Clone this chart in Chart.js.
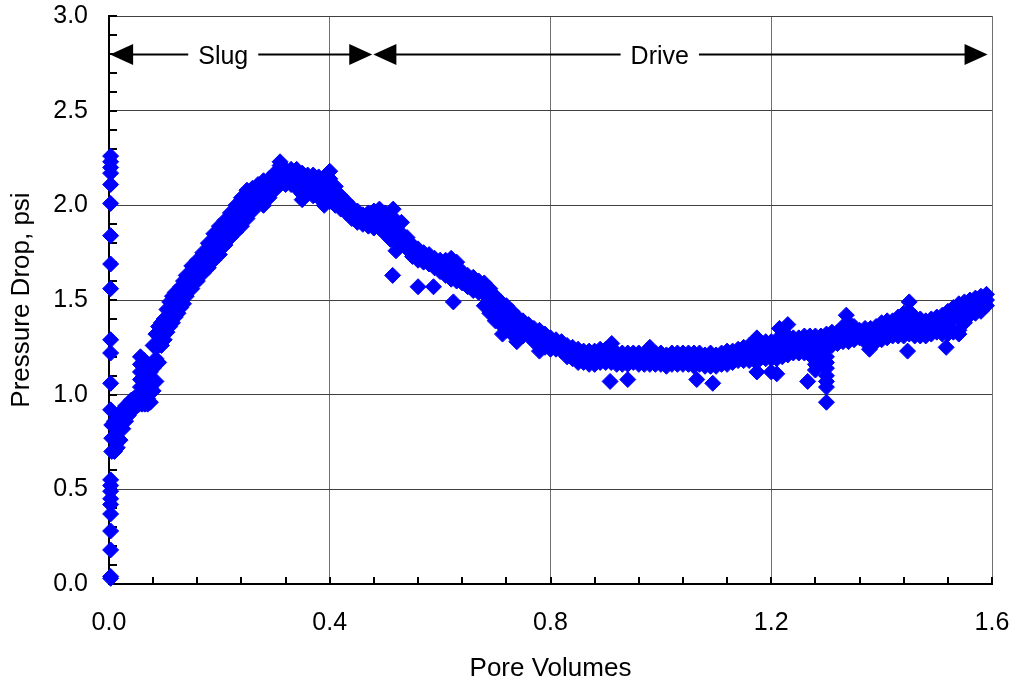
<!DOCTYPE html>
<html>
<head>
<meta charset="utf-8">
<title>Pressure Drop vs Pore Volumes</title>
<script src="https://cdn.jsdelivr.net/npm/chart.js@4.4.0/dist/chart.umd.min.js"></script>
<style>
  html, body { margin: 0; padding: 0; background: #fff; }
  #wrap { width: 1016px; height: 686px; }
</style>
</head>
<body>
<div id="wrap"><canvas id="dp-chart" width="1016" height="686"></canvas></div>
<script>
// axis ticks
const pvTicks = [0, 0.4, 0.8, 1.2, 1.6];
const dpTicks = [0, 0.5, 1.0, 1.5, 2.0, 2.5, 3.0];
const pvMinorStep = 0.08;
const dpMinorStep = 0.1;

// main band of readings: upper, middle and lower edge of the scatter at each PV
const pvBand = [
  0.005, 0.01, 0.015, 0.02, 0.025, 0.03, 0.035, 0.04, 0.045, 0.05,
  0.055, 0.06, 0.065, 0.07, 0.075, 0.08, 0.085, 0.09, 0.095, 0.1,
  0.105, 0.11, 0.115, 0.12, 0.125, 0.13, 0.135, 0.14,
  0.15, 0.16, 0.17, 0.18, 0.19, 0.20, 0.21, 0.22, 0.23, 0.24,
  0.25, 0.26, 0.27, 0.28, 0.29, 0.30, 0.31, 0.32, 0.33, 0.34,
  0.35, 0.36, 0.37, 0.38, 0.39, 0.40, 0.41, 0.42, 0.43, 0.44,
  0.45, 0.46, 0.47, 0.48, 0.49, 0.50, 0.51, 0.52, 0.53, 0.54,
  0.55, 0.56, 0.57, 0.58, 0.59, 0.60, 0.61, 0.62, 0.63, 0.64,
  0.65, 0.66, 0.67, 0.68, 0.69, 0.70, 0.71, 0.72, 0.73, 0.74,
  0.75, 0.76, 0.77, 0.78, 0.79, 0.80, 0.81, 0.82, 0.83, 0.84,
  0.85, 0.86, 0.87, 0.88, 0.89, 0.90, 0.91, 0.92, 0.93, 0.94,
  0.95, 0.96, 0.97, 0.98, 0.99, 1.00, 1.01, 1.02, 1.03, 1.04,
  1.05, 1.06, 1.07, 1.08, 1.09, 1.10, 1.11, 1.12, 1.13, 1.14,
  1.15, 1.16, 1.17, 1.18, 1.19, 1.20, 1.21, 1.22, 1.23, 1.24,
  1.25, 1.26, 1.27, 1.28, 1.29, 1.30, 1.31, 1.32, 1.33, 1.34,
  1.35, 1.36, 1.37, 1.38, 1.39, 1.40, 1.41, 1.42, 1.43, 1.44,
  1.45, 1.46, 1.47, 1.48, 1.49, 1.50, 1.51, 1.52, 1.53, 1.54,
  1.55, 1.56, 1.57, 1.58, 1.59
];
const dpHigh = [
  0.84, 0.86, 0.88, 0.90, 0.92, 0.94, 0.95, 0.97, 0.98, 0.99,
  0.99, 1.00, 1.00, 1.02, 1.12, 1.26, 1.32, 1.36, 1.38, 1.40,
  1.45, 1.49, 1.52, 1.54, 1.55, 1.57, 1.60, 1.63,
  1.68, 1.71, 1.75, 1.80, 1.85, 1.89, 1.92, 1.96, 2.00, 2.04,
  2.08, 2.09, 2.11, 2.13, 2.14, 2.17, 2.21, 2.19, 2.19, 2.19,
  2.17, 2.16, 2.16, 2.15, 2.15, 2.14, 2.10, 2.05, 2.02, 1.99,
  1.97, 1.95, 1.96, 1.97, 1.98, 1.96, 1.93, 1.92, 1.91, 1.83,
  1.79, 1.77, 1.75, 1.74, 1.72, 1.71, 1.71, 1.72, 1.70, 1.65,
  1.63, 1.62, 1.60, 1.59, 1.56, 1.52, 1.49, 1.47, 1.44, 1.41,
  1.39, 1.37, 1.35, 1.34, 1.32, 1.30, 1.29, 1.28, 1.26, 1.25,
  1.24, 1.23, 1.23, 1.23, 1.24, 1.24, 1.23, 1.22, 1.22, 1.22,
  1.22, 1.22, 1.21, 1.23, 1.22, 1.22, 1.21, 1.22, 1.22, 1.22,
  1.22, 1.22, 1.22, 1.21, 1.22, 1.21, 1.22, 1.23, 1.23, 1.24,
  1.25, 1.26, 1.27, 1.27, 1.28, 1.28, 1.29, 1.30, 1.31, 1.30,
  1.30, 1.31, 1.31, 1.31, 1.31, 1.32, 1.33, 1.33, 1.36, 1.38,
  1.36, 1.34, 1.35, 1.35, 1.36, 1.38, 1.39, 1.39, 1.41, 1.43,
  1.44, 1.41, 1.40, 1.39, 1.40, 1.41, 1.42, 1.44, 1.46, 1.48,
  1.49, 1.50, 1.51, 1.52, 1.53
];
const dpMid = [
  0.77, 0.78, 0.80, 0.83, 0.87, 0.90, 0.92, 0.94, 0.95, 0.96,
  0.97, 0.97, 0.98, 0.98, 1.04, 1.14, 1.19, 1.26, 1.32, 1.35,
  1.39, 1.43, 1.45, 1.48, 1.49, 1.51, 1.54, 1.57,
  1.62, 1.66, 1.69, 1.74, 1.78, 1.81, 1.85, 1.89, 1.93, 1.96,
  2.00, 2.03, 2.06, 2.07, 2.09, 2.12, 2.16, 2.15, 2.15, 2.14,
  2.12, 2.11, 2.11, 2.09, 2.09, 2.08, 2.05, 2.02, 1.99, 1.96,
  1.94, 1.92, 1.93, 1.92, 1.93, 1.90, 1.87, 1.86, 1.85, 1.80,
  1.76, 1.74, 1.73, 1.71, 1.70, 1.68, 1.67, 1.66, 1.65, 1.62,
  1.60, 1.58, 1.57, 1.53, 1.50, 1.46, 1.43, 1.41, 1.38, 1.36,
  1.35, 1.35, 1.32, 1.30, 1.29, 1.27, 1.26, 1.25, 1.23, 1.22,
  1.20, 1.20, 1.20, 1.20, 1.20, 1.21, 1.20, 1.19, 1.19, 1.19,
  1.19, 1.19, 1.18, 1.19, 1.19, 1.19, 1.18, 1.19, 1.19, 1.19,
  1.19, 1.19, 1.19, 1.18, 1.19, 1.18, 1.19, 1.19, 1.20, 1.21,
  1.21, 1.22, 1.23, 1.23, 1.23, 1.23, 1.24, 1.25, 1.26, 1.26,
  1.26, 1.26, 1.26, 1.26, 1.27, 1.28, 1.29, 1.30, 1.32, 1.33,
  1.32, 1.32, 1.31, 1.30, 1.32, 1.33, 1.35, 1.35, 1.36, 1.37,
  1.38, 1.36, 1.36, 1.35, 1.36, 1.37, 1.37, 1.38, 1.40, 1.41,
  1.44, 1.46, 1.47, 1.48, 1.50
];
const dpLow = [
  0.70, 0.70, 0.72, 0.76, 0.82, 0.86, 0.89, 0.91, 0.93, 0.94,
  0.95, 0.95, 0.95, 0.95, 0.96, 1.02, 1.07, 1.17, 1.26, 1.29,
  1.33, 1.36, 1.38, 1.41, 1.43, 1.46, 1.48, 1.52,
  1.56, 1.60, 1.64, 1.67, 1.71, 1.74, 1.79, 1.83, 1.86, 1.89,
  1.93, 1.97, 2.01, 2.00, 2.04, 2.08, 2.11, 2.11, 2.11, 2.09,
  2.06, 2.06, 2.05, 2.04, 2.03, 2.02, 2.00, 1.98, 1.96, 1.93,
  1.91, 1.90, 1.89, 1.88, 1.88, 1.85, 1.82, 1.81, 1.79, 1.77,
  1.73, 1.71, 1.70, 1.69, 1.67, 1.65, 1.63, 1.61, 1.60, 1.59,
  1.57, 1.55, 1.54, 1.47, 1.43, 1.39, 1.37, 1.34, 1.32, 1.30,
  1.31, 1.32, 1.28, 1.26, 1.25, 1.24, 1.24, 1.23, 1.20, 1.19,
  1.17, 1.17, 1.16, 1.16, 1.17, 1.17, 1.17, 1.16, 1.16, 1.16,
  1.17, 1.16, 1.16, 1.16, 1.16, 1.16, 1.15, 1.16, 1.16, 1.16,
  1.16, 1.15, 1.16, 1.15, 1.15, 1.15, 1.16, 1.16, 1.17, 1.18,
  1.18, 1.18, 1.18, 1.19, 1.19, 1.19, 1.19, 1.20, 1.21, 1.22,
  1.22, 1.22, 1.21, 1.21, 1.23, 1.24, 1.26, 1.27, 1.28, 1.28,
  1.29, 1.30, 1.28, 1.26, 1.28, 1.29, 1.30, 1.31, 1.31, 1.31,
  1.32, 1.31, 1.31, 1.31, 1.32, 1.33, 1.32, 1.32, 1.33, 1.34,
  1.38, 1.42, 1.43, 1.44, 1.47
];

// readings logged right at injection start (PV ~ 0)
const startPv = 0.003;
const dpStart = [
  2.26, 2.23, 2.20, 2.17, 2.11, 2.01, 1.84, 1.69, 1.56, 1.29, 1.22, 1.06,
  0.92, 0.55, 0.52, 0.49, 0.45, 0.42, 0.37, 0.28, 0.18, 0.04, 0.03
];

// scattered readings off the main band
const pvStray = [
  0.057, 0.057, 0.057, 0.057, 0.057, 0.064, 0.064, 0.064, 0.07, 0.07,
  0.31, 0.40, 0.515, 0.52, 0.35, 0.39,
  0.514, 0.56, 0.588, 0.624, 0.713, 0.739, 0.78,
  0.908, 0.94, 1.065, 1.094, 1.174, 1.20, 1.21, 1.266,
  0.911, 0.98, 1.174, 1.215, 1.23, 1.336, 1.45,
  1.28, 1.28, 1.28, 1.30, 1.30, 1.30, 1.30, 1.30, 1.30, 1.30,
  1.378, 1.447, 1.517, 1.54
];
const dpStray = [
  1.20, 1.16, 1.12, 1.08, 1.04, 1.18, 1.10, 1.03, 1.14, 1.07,
  2.23, 2.18, 1.98, 1.76, 2.03, 2.00,
  1.63, 1.57, 1.57, 1.49, 1.32, 1.28, 1.23,
  1.07, 1.08, 1.08, 1.06, 1.12, 1.12, 1.11, 1.07,
  1.27, 1.25, 1.30, 1.35, 1.37, 1.42, 1.49,
  1.19, 1.16, 1.13, 1.20, 1.17, 1.14, 1.10, 1.07, 1.04, 0.96,
  1.24, 1.23, 1.25, 1.32
];

// slug / drive phase markers
const phaseNames = ['Slug', 'Drive'];
const phaseFrom = [0.002, 0.479];
const phaseTo = [0.477, 1.592];
const phaseLabelPv = [0.207, 0.998];
const phaseLevel = 2.8;

const points = [];
pvBand.forEach((pv, i) => {
  points.push({x: pv, y: dpHigh[i]}, {x: pv, y: dpMid[i]}, {x: pv, y: dpLow[i]});
});
dpStart.forEach(dp => points.push({x: startPv, y: dp}));
pvStray.forEach((pv, i) => points.push({x: pv, y: dpStray[i]}));

const FONT = '"Liberation Sans", Arial, sans-serif';

// keep the plot box fixed: no extra room reserved for edge labels
function noEdgePadding(s) {
  s.paddingTop = 0;
  s.paddingBottom = 0;
  s.paddingLeft = 0;
  s.paddingRight = 0;
}

// short tick marks pointing into the plot area
const insideTicks = {
  id: 'insideTicks',
  beforeDatasetsDraw(chart) {
    const {ctx, chartArea: a, scales: {x, y}} = chart;
    ctx.save();
    ctx.strokeStyle = '#000';
    ctx.lineWidth = 2;
    ctx.beginPath();
    for (let i = 0; i * pvMinorStep <= 1.6 + 1e-9; i++) {
      const px = Math.round(x.getPixelForValue(i * pvMinorStep));
      ctx.moveTo(px, a.bottom);
      ctx.lineTo(px, a.bottom - 7);
    }
    for (let i = 0; i * dpMinorStep <= 3.0 + 1e-9; i++) {
      const py = Math.round(y.getPixelForValue(i * dpMinorStep));
      ctx.moveTo(a.left, py);
      ctx.lineTo(a.left + 8, py);
    }
    ctx.stroke();
    ctx.restore();
  }
};

// double headed arrows with the phase name in a gap
const phaseArrows = {
  id: 'phaseArrows',
  afterDatasetsDraw(chart) {
    const {ctx, scales: {x, y}} = chart;
    const yPx = Math.round(y.getPixelForValue(phaseLevel)) + 0.5;
    const headLen = 23, headHalf = 10.5;
    ctx.save();
    ctx.font = '25px ' + FONT;
    ctx.fillStyle = '#000';
    ctx.strokeStyle = '#000';
    ctx.lineWidth = 2;
    ctx.textAlign = 'center';
    ctx.textBaseline = 'middle';

    const head = (tip, dir) => {
      ctx.beginPath();
      ctx.moveTo(tip, yPx);
      ctx.lineTo(tip + dir * headLen, yPx - headHalf);
      ctx.lineTo(tip + dir * headLen, yPx + headHalf);
      ctx.closePath();
      ctx.fill();
    };

    phaseNames.forEach((name, i) => {
      const x0 = x.getPixelForValue(phaseFrom[i]);
      const x1 = x.getPixelForValue(phaseTo[i]);
      const xt = x.getPixelForValue(phaseLabelPv[i]);
      const half = ctx.measureText(name).width / 2 + 10;
      ctx.beginPath();
      ctx.moveTo(x0 + headLen - 1, yPx);
      ctx.lineTo(xt - half, yPx);
      ctx.moveTo(xt + half, yPx);
      ctx.lineTo(x1 - headLen + 1, yPx);
      ctx.stroke();
      head(x0, 1);
      head(x1, -1);
      ctx.fillText(name, xt, yPx + 3);
    });
    ctx.restore();
  }
};

new Chart(document.getElementById('dp-chart').getContext('2d'), {
  type: 'scatter',
  data: {
    datasets: [{
      label: 'Pressure Drop',
      data: points,
      pointStyle: 'rectRot',
      pointRadius: 8,
      backgroundColor: '#0000ff',
      borderColor: '#0000ff',
      borderWidth: 1,
      clip: false
    }]
  },
  options: {
    responsive: false,
    animation: false,
    events: [],
    layout: { padding: { left: 0, right: 24, top: 16, bottom: 0 } },
    plugins: {
      legend: { display: false },
      tooltip: { enabled: false }
    },
    scales: {
      x: {
        type: 'linear',
        min: 0,
        max: 1.6,
        afterBuildTicks: s => { s.ticks = pvTicks.map(v => ({value: v})); },
        afterFit: s => { s.height = 102; noEdgePadding(s); },
        grid: { color: '#707070', lineWidth: 1, drawTicks: false },
        border: { color: '#000', width: 2 },
        ticks: {
          padding: 24,
          color: '#000',
          font: { family: FONT, size: 25 },
          maxRotation: 0,
          callback: v => v.toFixed(1)
        },
        title: {
          display: true,
          text: 'Pore Volumes',
          color: '#000',
          font: { family: FONT, size: 26 },
          padding: { top: 0, bottom: 2 }
        }
      },
      y: {
        type: 'linear',
        min: 0,
        max: 3.0,
        afterBuildTicks: s => { s.ticks = dpTicks.map(v => ({value: v})); },
        afterFit: s => { s.width = 109; noEdgePadding(s); },
        grid: { color: '#404040', lineWidth: 1, drawTicks: false },
        border: { color: '#000', width: 2 },
        ticks: {
          padding: 21,
          color: '#000',
          font: { family: FONT, size: 25 },
          callback: v => v.toFixed(1)
        },
        title: {
          display: true,
          text: 'Pressure Drop, psi',
          color: '#000',
          font: { family: FONT, size: 26 },
          padding: { top: 6, bottom: 0 }
        }
      }
    }
  },
  plugins: [insideTicks, phaseArrows]
});
</script>
</body>
</html>
